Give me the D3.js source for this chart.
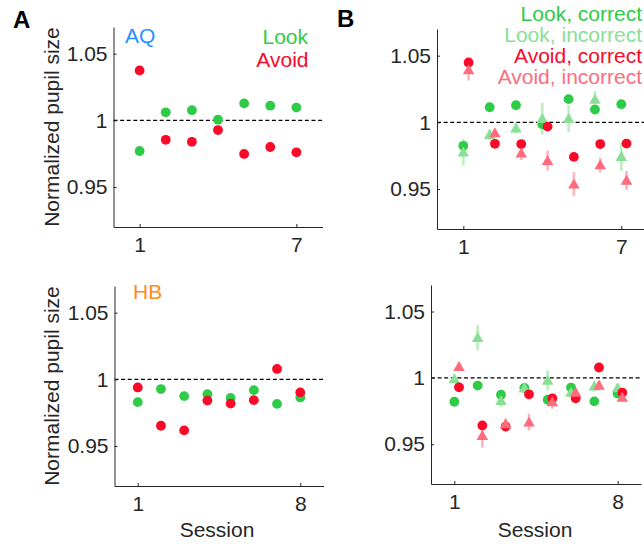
<!DOCTYPE html>
<html>
<head>
<meta charset="utf-8">
<script src="https://cdn.jsdelivr.net/npm/d3@7"></script>
<style>
  body { margin: 0; background: #fff; }
  svg text { font-family: "Liberation Sans", Arial, Helvetica, sans-serif; }
</style>
</head>
<body>
<svg id="chart" width="644" height="544"></svg>
<script>
// sessions
var sessionsAQ = [1, 2, 3, 4, 5, 6, 7];
var sessionsHB = [1, 2, 3, 4, 5, 6, 7, 8];

// panel A, AQ
var aqLook  = [0.977, 1.006, 1.0076, 1.0005, 1.0127, 1.011, 1.0096];
var aqAvoid = [1.0374, 0.9854, 0.9839, 0.9927, 0.9748, 0.980, 0.976];
// panel A, HB
var hbLook  = [0.9829, 0.9927, 0.9874, 0.9889, 0.9861, 0.9919, 0.9816, 0.9864];
var hbAvoid = [0.9939, 0.9652, 0.9617, 0.9841, 0.9818, 0.9844, 1.0078, 0.9902];

// panel B, AQ
var aqLookCorrect      = [0.9824, 1.0113, 1.0128, 0.9985, 1.0174, 1.0096, 1.0136];
var aqLookIncorrect    = [0.9776, 0.9907, 0.9957, 1.0028, 1.0028, 1.0171, 0.9743];
var aqLookIncorrectErr = [0.010, 0.004, 0.004, 0.012, 0.010, 0.0063, 0.0106];
var aqAvoidCorrect      = [1.0449, 0.9839, 0.9837, 0.9968, 0.9741, 0.9837, 0.9841];
var aqAvoidIncorrect    = [1.0393, 0.9920, 0.9768, 0.9713, 0.9537, 0.9680, 0.9565];
var aqAvoidIncorrectErr = [0.008, 0.003, 0.005, 0.0075, 0.009, 0.0056, 0.007];
// panel B, HB
var hbLookCorrect      = [0.9820, 0.9942, 0.9873, 0.9924, 0.9835, 0.9927, 0.9823, 0.9881];
var hbLookIncorrect    = [0.9992, 1.0304, 0.9828, 0.9924, 0.998, 0.9891, 0.9937, 0.9924];
var hbLookIncorrectErr = [0.003, 0.0095, 0.005, 0.003, 0.0076, 0.003, 0.004, 0.003];
var hbAvoidCorrect      = [0.9929, 0.9641, 0.9633, 0.9876, 0.9846, 0.9846, 1.0078, 0.9889];
var hbAvoidIncorrect    = [1.0084, 0.9565, 0.9653, 0.9666, 0.9818, 0.9891, 0.9944, 0.9853];
var hbAvoidIncorrectErr = [0.003, 0.009, 0.004, 0.0063, 0.005, 0.003, 0.003, 0.003];

var yTicks = [0.95, 1, 1.05];
var yDomain = [0.92, 1.07];
var legendB = ["Look, correct", "Look, incorrect", "Avoid, correct", "Avoid, incorrect"];

var green = "#2ecc46", greenLight = "#88e094", greenErr = "#bdefc3";
var red = "#fa0a28", redLight = "#ff6d7c", redErr = "#ffb5bd";
var ink = "#262626";
var avoidShift = 0.2;

var svg = d3.select("#chart");

function panel(p) {
  var x = d3.scaleLinear().domain(p.xDomain).range([p.left, p.right]);
  var y = d3.scaleLinear().domain(yDomain).range([p.bottom, p.top]);
  var g = svg.append("g");

  g.append("line")
    .attr("x1", p.left).attr("x2", p.right)
    .attr("y1", y(1)).attr("y2", y(1))
    .attr("stroke", "#000")
    .attr("stroke-width", 1.1)
    .attr("stroke-dasharray", "4,2.6");

  var ax = g.append("g")
    .attr("transform", "translate(0," + p.bottom + ")")
    .call(d3.axisBottom(x).tickValues(p.xTicks).tickFormat(d3.format("d"))
      .tickSize(-3).tickSizeOuter(0).tickPadding(10));
  var ay = g.append("g")
    .attr("transform", "translate(" + p.left + ",0)")
    .call(d3.axisLeft(y).tickValues(yTicks).tickFormat(function (d) { return d === 1 ? "1" : d; })
      .tickSize(-3).tickSizeOuter(0).tickPadding(6));
  [ax, ay].forEach(function (a) {
    a.attr("font-size", 21).attr("font-family", null);
    a.selectAll("path, line").attr("stroke", ink);
    a.selectAll("text").attr("fill", ink);
  });
  // error bars sit under every marker
  var errLayer = g.append("g");
  var markLayer = g.append("g");
  return { g: markLayer, err: errLayer, x: x, y: y };
}

function dots(pn, sessions, vals, shift, color) {
  pn.g.selectAll(null).data(vals).enter().append("circle")
    .attr("cx", function (d, i) { return pn.x(sessions[i] + shift); })
    .attr("cy", function (d) { return pn.y(d); })
    .attr("r", 4.9)
    .attr("fill", color);
}

function triangles(pn, sessions, vals, errs, shift, color, errColor) {
  pn.err.selectAll(null).data(vals).enter().append("line")
    .attr("x1", function (d, i) { return pn.x(sessions[i] + shift); })
    .attr("x2", function (d, i) { return pn.x(sessions[i] + shift); })
    .attr("y1", function (d, i) { return pn.y(d - errs[i]); })
    .attr("y2", function (d, i) { return pn.y(d + errs[i]); })
    .attr("stroke", errColor)
    .attr("stroke-width", 2.6);
  pn.g.selectAll(null).data(vals).enter().append("path")
    .attr("d", d3.symbol().type(d3.symbolTriangle).size(58))
    .attr("transform", function (d, i) {
      return "translate(" + pn.x(sessions[i] + shift) + "," + (pn.y(d) + 1) + ")";
    })
    .attr("fill", color);
}

function yLabel(cx, cy) {
  svg.append("text")
    .attr("transform", "translate(" + cx + "," + cy + ")rotate(-90)")
    .attr("text-anchor", "middle")
    .attr("font-size", 21)
    .attr("fill", ink)
    .text("Normalized pupil size");
}

function label(x, y, txt, color, anchor) {
  svg.append("text")
    .attr("x", x).attr("y", y)
    .attr("text-anchor", anchor || "start")
    .attr("font-size", 21)
    .attr("fill", color)
    .text(txt);
}

// ---- panel A top (AQ)
var aTop = panel({ xDomain: [0, 8], xTicks: [1, 7], left: 113.5, right: 322.5, top: 27, bottom: 227 });
dots(aTop, sessionsAQ, aqLook, 0, green);
dots(aTop, sessionsAQ, aqAvoid, 0, red);
yLabel(59, 127);
label(125, 43, "AQ", "#2b8fff");
label(308, 44, "Look", green, "end");
label(308.5, 67, "Avoid", red, "end");

// ---- panel A bottom (HB)
var aBot = panel({ xDomain: [0, 9], xTicks: [1, 8], left: 114.5, right: 323.5, top: 286, bottom: 486 });
dots(aBot, sessionsHB, hbLook, 0, green);
dots(aBot, sessionsHB, hbAvoid, 0, red);
yLabel(59, 386);
label(133, 298.5, "HB", "#ff8c1a");

// ---- panel B top (AQ)
var bTop = panel({ xDomain: [0, 8], xTicks: [1, 7], left: 437, right: 647.6, top: 29, bottom: 229 });
dots(bTop, sessionsAQ, aqLookCorrect, 0, green);
triangles(bTop, sessionsAQ, aqLookIncorrect, aqLookIncorrectErr, 0, greenLight, greenErr);
dots(bTop, sessionsAQ, aqAvoidCorrect, avoidShift, red);
triangles(bTop, sessionsAQ, aqAvoidIncorrect, aqAvoidIncorrectErr, avoidShift, redLight, redErr);

// ---- panel B bottom (HB)
var bBot = panel({ xDomain: [0, 9], xTicks: [1, 8], left: 431, right: 641, top: 285, bottom: 484 });
dots(bBot, sessionsHB, hbLookCorrect, 0, green);
triangles(bBot, sessionsHB, hbLookIncorrect, hbLookIncorrectErr, 0, greenLight, greenErr);
dots(bBot, sessionsHB, hbAvoidCorrect, avoidShift, red);
triangles(bBot, sessionsHB, hbAvoidIncorrect, hbAvoidIncorrectErr, avoidShift, redLight, redErr);

// legend B
var legendColors = [green, greenLight, red, redLight];
legendB.forEach(function (t, i) {
  label(642, 21 + i * 21, t, legendColors[i], "end");
});

// x labels
svg.append("text").attr("x", 217).attr("y", 537).attr("text-anchor", "middle")
  .attr("font-size", 21).attr("fill", ink).text("Session");
svg.append("text").attr("x", 535).attr("y", 537).attr("text-anchor", "middle")
  .attr("font-size", 21).attr("fill", ink).text("Session");

// panel letters
svg.append("text").attr("x", 13).attr("y", 28).attr("font-size", 24)
  .attr("font-weight", "bold").attr("fill", "#000").text("A");
svg.append("text").attr("x", 337).attr("y", 27).attr("font-size", 24)
  .attr("font-weight", "bold").attr("fill", "#000").text("B");
</script>
</body>
</html>
